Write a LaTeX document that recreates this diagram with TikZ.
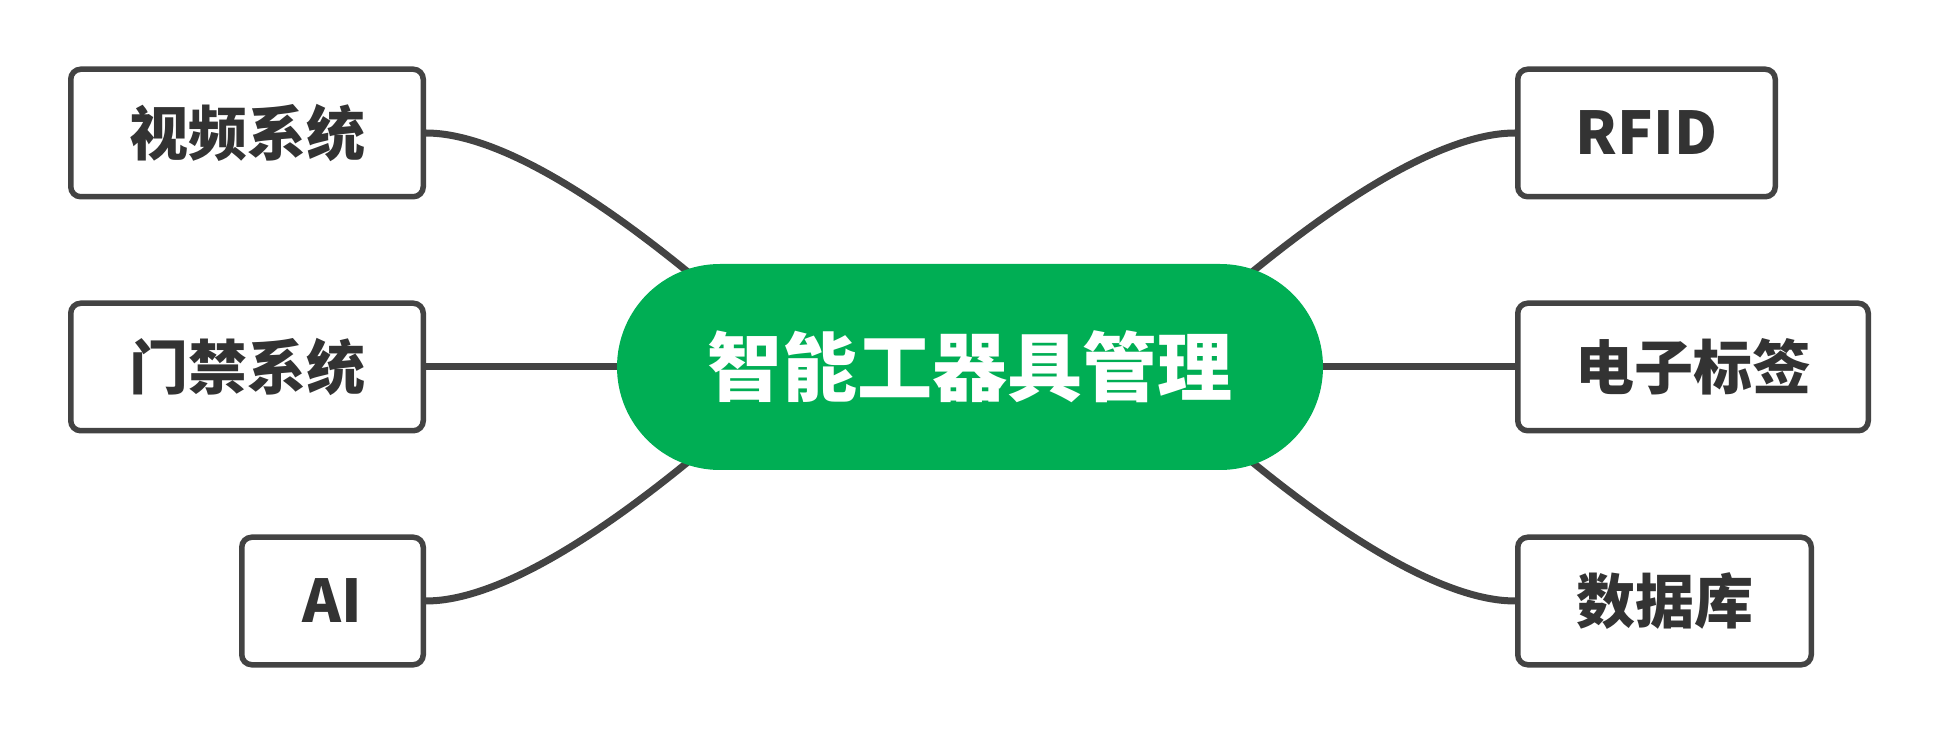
\documentclass[tikz,border=0pt]{standalone}
\usepackage{fontspec}
\setmainfont{Noto Sans CJK SC}
\usepackage{tikz}
\usetikzlibrary{positioning, backgrounds}
\definecolor{hubgreen}{RGB}{0,174,84}
\definecolor{linegray}{RGB}{67,67,67}
\definecolor{textgray}{RGB}{51,51,51}

\begin{document}
\begin{tikzpicture}[x=1pt, y=1pt, node distance=101pt,
    hub/.style={fill=hubgreen, text=white, rounded corners=103pt, minimum width=706pt, minimum height=206pt, outer sep=0pt, font=\fontsize{75}{80}\selectfont\bfseries},
    leaf/.style={draw=linegray, line width=5.5pt, rounded corners=10pt, fill=white, text=textgray, minimum height=127.5pt, font=\fontsize{59}{64}\selectfont\bfseries},
    branch/.style={draw=linegray, line width=7pt, out distance=59pt, in distance=143pt}] % sizes in pt follow the pixel grid

    \useasboundingbox (0,0) rectangle (1941,734);

    % 1. Define Nodes
    \node[hub] (hub) at (970,367) {智能工器具管理};
    \node[leaf, minimum width=352.5pt] (door) [left=191pt of hub] {门禁系统};
    \node[leaf, minimum width=352.5pt] (video) [above=of door.north east, anchor=south east] {视频系统};
    \node[leaf, minimum width=181.5pt] (ai) [below=of door.south east, anchor=north east] {AI};
    \node[leaf, minimum width=350.5pt] (tag) [right=192pt of hub] {电子标签};
    \node[leaf, minimum width=257.5pt] (rfid) [above=of tag.north west, anchor=south west] {RFID};
    \node[leaf, minimum width=293.5pt] (db) [below=of tag.south west, anchor=north west] {数据库};

    % 2. Draw Branches (behind the nodes, each one runs on a little into the hub)
    \begin{scope}[on background layer]
        \draw[branch] (video.east) to[out=0, in=141] ([xshift=66pt, yshift=99pt]hub.west) -- ++(-39:60pt);
        \draw[branch] (door) -- (hub);
        \draw[branch] (ai.east) to[out=0, in=-141] ([xshift=66pt, yshift=-99pt]hub.west) -- ++(39:60pt);
        \draw[branch] (rfid.west) to[out=180, in=39] ([xshift=-66pt, yshift=99pt]hub.east) -- ++(-141:60pt);
        \draw[branch] (tag) -- (hub);
        \draw[branch] (db.west) to[out=180, in=-39] ([xshift=-66pt, yshift=-99pt]hub.east) -- ++(141:60pt);
    \end{scope}

\end{tikzpicture}
\end{document}
